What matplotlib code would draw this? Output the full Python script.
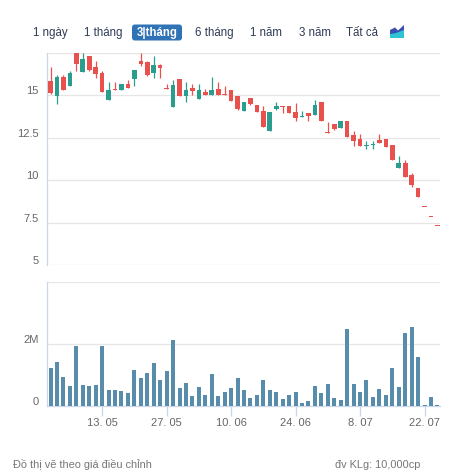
import matplotlib.pyplot as plt
import matplotlib.transforms as mtransforms
from matplotlib.patches import FancyBboxPatch, Polygon

plt.rcParams['font.family'] = ['Liberation Sans', 'DejaVu Sans']

# OHLC, 61 sessions
opens = [15.82, 14.96, 16.06, 15.55, 17.46, 16.37, 17.29, 16.64, 16.33, 14.71,
         15.35, 15.33, 15.65, 15.96, 16.99, 16.95, 16.29, 16.76, 15.45, 14.31,
         15.94, 14.96, 15.45, 14.75, 15.16, 15.02, 15.39, 15.04, 15.33, 14.94,
         14.08, 14.81, 14.45, 14.08, 12.90, 14.16, 14.35, 14.35, 14.00, 13.69,
         13.96, 13.81, 14.59, 12.85, 13.28, 13.04, 13.46, 12.65, 12.40, 11.99,
         12.05, 12.34, 12.42, 12.05, 10.73, 11.00, 10.31, 9.54, 8.42, 7.83, 7.30]
highs = [16.66, 16.21, 16.17, 16.40, 17.50, 17.50, 17.32, 17.00, 16.40, 15.75,
         15.78, 15.63, 15.90, 16.51, 17.46, 17.00, 17.29, 16.82, 15.65, 15.88,
         15.94, 15.76, 15.65, 15.65, 15.39, 16.04, 15.76, 15.53, 15.33, 14.94,
         14.57, 14.85, 14.45, 14.34, 14.00, 14.57, 14.35, 14.35, 14.51, 14.08,
         13.96, 14.71, 14.59, 13.40, 13.28, 13.46, 13.46, 12.90, 12.71, 12.32,
         12.32, 12.73, 12.42, 12.05, 11.40, 11.18, 10.41, 9.54, 8.42, 7.83, 7.30]
lows = [15.04, 14.49, 15.29, 15.52, 16.45, 16.37, 16.41, 16.00, 15.19, 14.71,
        15.31, 15.33, 15.43, 15.51, 16.72, 16.10, 16.00, 16.00, 15.39, 14.31,
        14.96, 14.61, 15.00, 14.75, 15.02, 15.02, 15.02, 14.98, 14.67, 14.12,
        14.04, 14.45, 14.02, 13.14, 12.90, 14.12, 13.93, 13.93, 13.49, 13.69,
        13.49, 13.81, 13.49, 12.75, 12.96, 13.04, 12.55, 12.02, 12.02, 11.81,
        11.85, 12.20, 11.97, 11.19, 10.73, 10.21, 9.58, 9.03, 8.40, 7.82, 7.29]
closes = [15.13, 16.04, 15.33, 16.33, 16.82, 17.15, 16.48, 16.27, 15.19, 15.33,
          15.31, 15.63, 15.43, 16.51, 16.84, 16.19, 16.76, 16.57, 15.39, 15.57,
          14.96, 15.29, 15.25, 15.33, 15.02, 15.33, 15.02, 14.98, 14.67, 14.18,
          14.57, 14.49, 14.02, 13.14, 14.00, 14.35, 14.30, 13.93, 13.67, 13.77,
          13.77, 14.41, 13.49, 12.79, 13.02, 13.46, 12.55, 12.32, 12.02, 12.07,
          12.12, 12.20, 11.97, 11.19, 11.00, 10.21, 9.72, 9.03, 8.40, 7.82, 7.29]
volumes = [1.24, 1.43, 0.94, 0.65, 1.95, 0.68, 0.65, 0.68, 1.95, 0.52,
           0.52, 0.49, 0.42, 1.17, 0.91, 1.07, 1.39, 0.84, 1.14, 2.14,
           0.58, 0.75, 0.32, 0.62, 0.36, 1.04, 0.32, 0.45, 0.58, 0.91,
           0.52, 0.26, 0.36, 0.84, 0.52, 0.45, 0.23, 0.36, 0.45, 0.10,
           0.16, 0.65, 0.42, 0.71, 0.26, 0.19, 2.50, 0.71, 0.45, 0.84,
           0.29, 0.55, 0.36, 1.23, 0.62, 2.34, 2.56, 1.59, 0.03, 0.29, 0.03]
volumes = [v * 1e6 for v in volumes]

tick_idx = [8, 18, 28, 38, 48, 58]
tick_labels = ["13. 05", "27. 05", "10. 06", "24. 06", "8. 07", "22. 07"]
price_ticks = [5, 7.5, 10, 12.5, 15]
price_labels = ["5", "7.5", "10", "12.5", "15"]
range_buttons = ["1 ngày", "1 tháng", "3|tháng", "6 tháng", "1 năm", "3 năm", "Tất cả"]
button_x = [50, 103, 157, 214, 266, 315, 362]

UP = '#2a9d8f'
DOWN = '#e9514f'
VOL = '#578daa'
GRID = '#e6e6e6'
AXIS = '#ccd6eb'
LABEL = '#666666'

W, H = 459, 474
fig = plt.figure(figsize=(W / 100, H / 100), dpi=100)


def fx(x):
    return x / W


def fy(y):
    return 1 - y / H


ax = fig.add_axes([fx(46.7), fy(265), fx(440) - fx(46.7), fy(52.7) - fy(265)])
axv = fig.add_axes([fx(46.7), fy(406), fx(440) - fx(46.7), fy(282) - fy(406)])

n = len(opens)
xs = list(range(n))
cols = [UP if c >= o else DOWN for o, c in zip(opens, closes)]
bottoms = [min(o, c) for o, c in zip(opens, closes)]
heights = [max(abs(c - o), 0.06) for o, c in zip(opens, closes)]

ax.vlines(xs, lows, highs, colors=cols, linewidth=0.9, zorder=2)
ax.bar(xs, heights, bottom=bottoms, width=0.72, color=cols, zorder=3)

ax.set_xlim(-0.6, 60.4)
ax.set_ylim(5, 17.5)
ax.set_yticks(price_ticks + [17.5])
ax.set_yticklabels(price_labels + [""])
ax.set_xticks([])
ax.grid(axis='y', color=GRID, linewidth=0.9)
ax.set_axisbelow(True)
for s in ['top', 'right', 'bottom']:
    ax.spines[s].set_visible(False)
ax.spines['left'].set_color(AXIS)
ax.spines['left'].set_linewidth(0.9)
ax.tick_params(axis='y', length=0, pad=6, labelsize=8, labelcolor=LABEL)

axv.bar(xs, volumes, width=0.62, color=VOL, zorder=3)
axv.set_xlim(-0.6, 60.4)
axv.set_ylim(0, 4e6)
axv.set_yticks([0, 2e6, 4e6])
axv.set_yticklabels(["0", "2M", ""])
axv.grid(axis='y', color=GRID, linewidth=0.9)
axv.set_axisbelow(True)
for s in ['top', 'right']:
    axv.spines[s].set_visible(False)
axv.spines['left'].set_color(AXIS)
axv.spines['bottom'].set_color(AXIS)
axv.spines['left'].set_linewidth(0.9)
axv.spines['bottom'].set_linewidth(0.9)
axv.tick_params(axis='y', length=0, pad=6, labelsize=8, labelcolor=LABEL)
axv.set_xticks(tick_idx)
axv.set_xticklabels(tick_labels)
axv.tick_params(axis='x', length=7, color=AXIS, width=0.9, pad=2,
                labelsize=8, labelcolor=LABEL)

# y labels sit a little above their grid lines
shift = mtransforms.ScaledTranslation(0, 5 / 100, fig.dpi_scale_trans)
for a in (ax, axv):
    for lab in a.get_yticklabels():
        lab.set_transform(lab.get_transform() + shift)

# range selector
fig.patches.append(FancyBboxPatch((fx(132), fy(40.5)), fx(50), fy(24.5) - fy(40.5),
                                  boxstyle="round,pad=0,rounding_size=0.006",
                                  transform=fig.transFigure, facecolor='#2f72b5',
                                  edgecolor='none'))
for label, x in zip(range_buttons, button_x):
    active = label.startswith("3|")
    fig.text(fx(x), fy(33), label, ha='center', va='center', fontsize=8.3,
             color='white' if active else '#2e3b56',
             fontweight='bold' if active else 'normal')

# small area-chart icon
fig.patches.append(Polygon([(fx(390), fy(38)), (fx(390), fy(30)), (fx(395), fy(27.5)),
                            (fx(398), fy(30.5)), (fx(404), fy(25)), (fx(404), fy(38))],
                           closed=True, transform=fig.transFigure,
                           facecolor='#3a4fb0', edgecolor='none'))
fig.patches.append(Polygon([(fx(390), fy(38)), (fx(390), fy(34)), (fx(396), fy(33)),
                            (fx(404), fy(30)), (fx(404), fy(38))],
                           closed=True, transform=fig.transFigure,
                           facecolor='#2ec4d6', edgecolor='none'))

fig.text(fx(13), fy(465), "Đồ thị vẽ theo giá điều chỉnh", ha='left', va='center',
         fontsize=7.9, color='#777777')
fig.text(fx(420), fy(465), "đv KLg: 10,000cp", ha='right', va='center',
         fontsize=7.9, color='#777777')

fig.savefig("out.png", dpi=100)
